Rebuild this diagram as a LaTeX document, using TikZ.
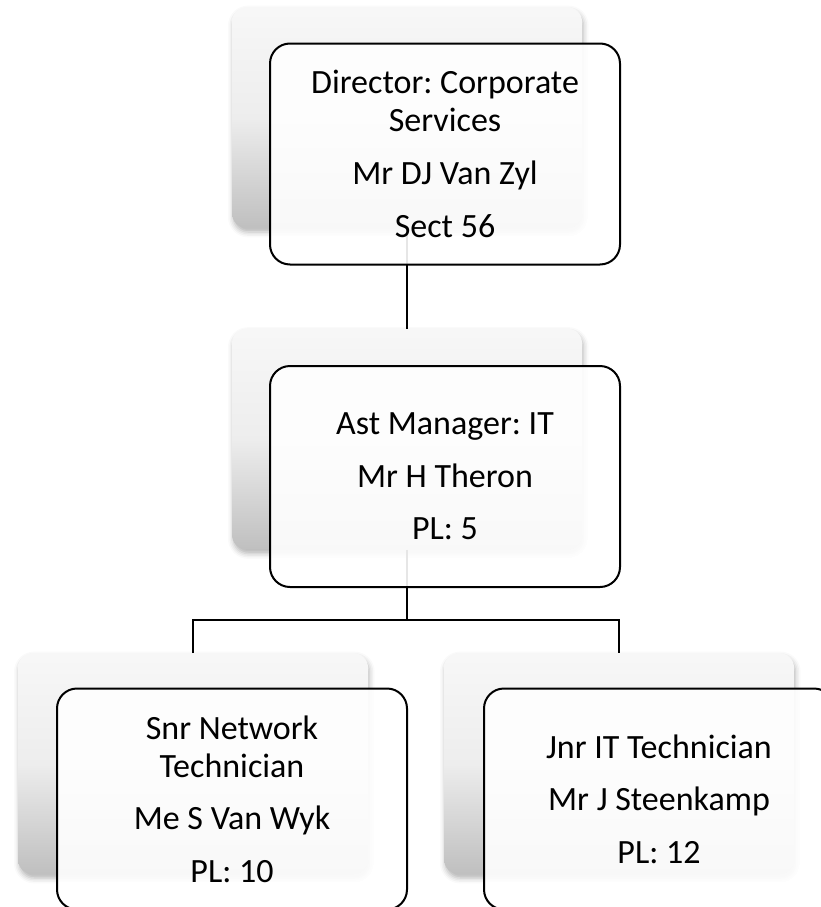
\documentclass[tikz,border=0pt]{standalone}
\usepackage{fontspec}
\setmainfont{Carlito}
\frenchspacing
\usetikzlibrary{shadows.blur}
\begin{document}
\begin{tikzpicture}[x=0.75pt,y=-0.75pt,
  backbox/.style={rectangle, rounded corners=11pt,
    minimum width=262.5pt, minimum height=165.75pt,
    inner sep=0pt, outer sep=0pt,
    top color=black!3, bottom color=black!25, middle color=black!7,
    blur shadow={shadow xshift=1pt, shadow yshift=-3pt,
      shadow blur radius=4pt, shadow opacity=30}},
  frontbox/.style={rectangle, rounded corners=15pt,
    draw=black, line width=1.5pt,
    fill=white, fill opacity=0.9, text opacity=1,
    minimum width=262.5pt, minimum height=165.75pt,
    inner sep=0pt, outer sep=0pt, align=center,
    font=\fontsize{25.5}{28.5}\selectfont},
  link/.style={draw=black, line width=2pt}]

\useasboundingbox (0,0) rectangle (821,907);
\clip (0,0) rectangle (821,907);

% back panels
\node[backbox] (s1) at (407,117.5) {};
\node[backbox] (s2) at (407,439) {};
\node[backbox] (s3) at (193,763.5) {};
\node[backbox] (s4) at (619,763.5) {};

% reporting lines
\coordinate (j) at (407,620);
\draw[link] (s1.south) -- (s2.north);
\draw[link] (s2.south) -- (j);
\draw[link] (s3.north) |- (j) -| (s4.north);

% position boxes
\node[frontbox] (f1) at (445,154)
  {Director: Corporate\\Services\\[11pt]Mr DJ Van Zyl\\[11pt]Sect 56};
\node[frontbox] (f2) at (445,476.5)
  {Ast Manager: IT\\[11pt]Mr H Theron\\[11pt]PL: 5};
\node[frontbox] (f3) at (232,799)
  {Snr Network\\Technician\\[11pt]Me S Van Wyk\\[11pt]PL: 10};
\node[frontbox] (f4) at (659,799)
  {Jnr IT Technician\\[11pt]Mr J Steenkamp\\[11pt]PL: 12};
\end{tikzpicture}
\end{document}
